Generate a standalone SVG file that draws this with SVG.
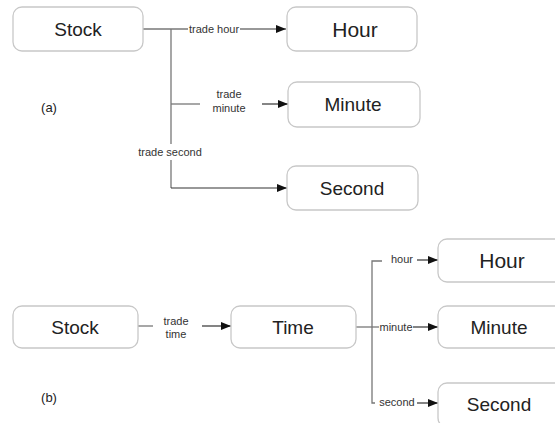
<svg xmlns="http://www.w3.org/2000/svg" width="555" height="423" viewBox="0 0 555 423">
<defs>
<marker id="arr" viewBox="0 0 10 8" refX="10" refY="4" markerWidth="10" markerHeight="8" markerUnits="userSpaceOnUse" orient="auto">
<path d="M0,0 L10,4 L0,8 Z" fill="#111"/>
</marker>
<style>
.box{fill:#fff;stroke:#c8c8c8;stroke-width:1.3}
.lbl{font-family:"Liberation Sans",Arial,sans-serif;font-size:19px;fill:#222;text-anchor:middle;dominant-baseline:central}
.big{font-size:21px}
.sm{font-family:"Liberation Sans",Arial,sans-serif;font-size:11px;fill:#333;text-anchor:middle;dominant-baseline:central}
.cap{font-family:"Liberation Sans",Arial,sans-serif;font-size:13px;fill:#222;text-anchor:middle;dominant-baseline:central}
.ln{fill:none;stroke:#777;stroke-width:1.3}
.la{fill:none;stroke:#333;stroke-width:1.2}
</style>
</defs>
<rect width="555" height="423" fill="#fff"/>

<g id="connectors">
<!-- (a) -->
<path class="ln" d="M143,29 H188"/>
<path class="la" d="M240,29 H286" marker-end="url(#arr)"/>
<path class="ln" d="M171,29 V144"/>
<path class="ln" d="M171,160 V188"/>
<path class="ln" d="M171,104 H200"/>
<path class="la" d="M262,104 H288" marker-end="url(#arr)"/>
<path class="la" d="M171,188 H287" marker-end="url(#arr)"/>
<text class="sm" x="214" y="29">trade hour</text>
<text class="sm" x="229" y="94" font-size="10">trade</text>
<text class="sm" x="229" y="108" font-size="10.5">minute</text>
<text class="sm" x="170" y="152">trade second</text>
<!-- (b) -->
<path class="ln" d="M138,326 H153"/>
<path class="la" d="M202,326 H231" marker-end="url(#arr)"/>
<text class="sm" x="176" y="321" font-size="10">trade</text>
<text class="sm" x="176" y="334" font-size="10">time</text>
<path class="ln" d="M356,327 H379"/>
<path class="ln" d="M382,261 H372 V403 H375"/>
<path class="la" d="M413,327 H438" marker-end="url(#arr)"/>
<path class="la" d="M417,260 H438" marker-end="url(#arr)"/>
<path class="la" d="M417,403 H438" marker-end="url(#arr)"/>
<text class="sm" x="402" y="259">hour</text>
<text class="sm" x="396" y="327">minute</text>
<text class="sm" x="397" y="402">second</text>
</g>

<g id="stock-a"><rect class="box" x="13" y="7" width="130" height="44" rx="9"/><text class="lbl" x="78" y="29">Stock</text></g>
<g id="hour-a"><rect class="box" x="287" y="7" width="130" height="44" rx="9"/><text class="lbl big" x="355" y="29">Hour</text></g>
<g id="minute-a"><rect class="box" x="288" y="82" width="132" height="45" rx="9"/><text class="lbl" x="353" y="104">Minute</text></g>
<g id="second-a"><rect class="box" x="287" y="166" width="131" height="44" rx="9"/><text class="lbl" x="352" y="188">Second</text></g>
<text class="cap" x="49" y="107">(a)</text>

<g id="stock-b"><rect class="box" x="13" y="306" width="125" height="42" rx="9"/><text class="lbl" x="75" y="327">Stock</text></g>
<g id="time-b"><rect class="box" x="231" y="306" width="125" height="42" rx="9"/><text class="lbl" x="293" y="327">Time</text></g>
<g id="hour-b"><rect class="box" x="438" y="239" width="128" height="43" rx="9"/><text class="lbl big" x="502" y="260">Hour</text></g>
<g id="minute-b"><rect class="box" x="438" y="306" width="128" height="42" rx="9"/><text class="lbl" x="499" y="327">Minute</text></g>
<g id="second-b"><rect class="box" x="438" y="383" width="128" height="44" rx="9"/><text class="lbl" x="499" y="404">Second</text></g>
<text class="cap" x="49" y="397">(b)</text>
</svg>
